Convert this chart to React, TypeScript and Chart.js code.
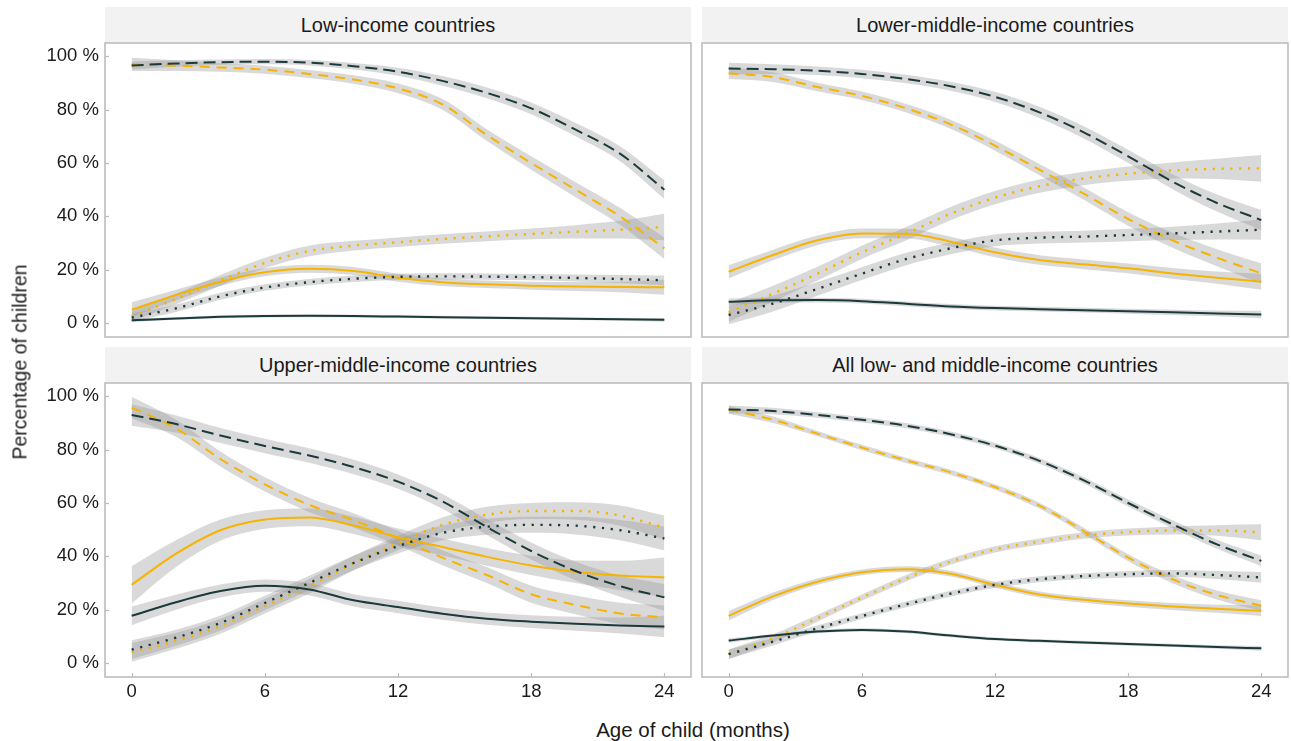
import React, { useEffect, useRef } from 'react';
import { Chart, registerables } from 'chart.js';
Chart.register(...registerables);

const FONT = '"Liberation Sans", Arial, Helvetica, sans-serif';
const DARK = '#1b3a3b';
const GOLD = '#f6b300';
const BAND = 'rgba(150,150,150,0.36)';

const months = [0, 2, 4, 6, 8, 10, 12, 14, 16, 18, 20, 22, 24];
const xTickValues = [0, 6, 12, 18, 24];
const yTickValues = [0, 20, 40, 60, 80, 100];

const panelTitles = [
  'Low-income countries',
  'Lower-middle-income countries',
  'Upper-middle-income countries',
  'All low- and middle-income countries',
];

// Low-income countries
const lowDarkSolid = [1, 1.7, 2.3, 2.6, 2.7, 2.6, 2.4, 2.2, 2, 1.8, 1.6, 1.4, 1.2];
const lowDarkSolidCI = [0.6, 0.5, 0.5, 0.5, 0.5, 0.5, 0.5, 0.5, 0.5, 0.5, 0.5, 0.6, 0.7];
const lowDarkDashed = [96.6, 97.3, 97.8, 98, 97.6, 96.3, 94.2, 90.8, 86.3, 80.5, 72.5, 63.5, 50];
const lowDarkDashedCI = [1.5, 1.2, 1, 1, 1, 1.2, 1.5, 1.8, 2, 2.2, 2.5, 2.8, 3.5];
const lowDarkDotted = [2, 5.5, 10, 13.3, 15.3, 16.6, 17.3, 17.5, 17.4, 17.2, 16.9, 16.5, 16];
const lowDarkDottedCI = [1.5, 1.4, 1.3, 1.2, 1.2, 1.2, 1.2, 1.2, 1.2, 1.2, 1.3, 1.5, 1.8];
const lowGoldSolid = [5, 10.5, 15.5, 19, 20.3, 19.5, 17, 15.3, 14.5, 14, 13.7, 13.5, 13.4];
const lowGoldSolidCI = [2.8, 2, 1.6, 1.5, 1.5, 1.5, 1.5, 1.4, 1.4, 1.5, 1.7, 2, 2.8];
const lowGoldDashed = [97, 96.5, 95.8, 95, 93.4, 91.3, 88, 82, 70.5, 60, 50, 40, 28];
const lowGoldDashedCI = [2.5, 2, 1.6, 1.5, 1.5, 1.6, 1.8, 2, 2.2, 2.5, 2.8, 3.2, 4];
const lowGoldDotted = [2.5, 9, 16, 22.5, 27, 29, 30.3, 31.5, 32.5, 33.4, 34.2, 35, 36];
const lowGoldDottedCI = [2, 2, 2, 2, 2, 1.8, 1.8, 1.8, 1.8, 2, 2.5, 3.3, 5];

// Lower-middle-income countries
const lmDarkSolid = [8, 8.5, 8.6, 8.2, 7.2, 6.2, 5.6, 5.2, 4.8, 4.4, 4, 3.6, 3.2];
const lmDarkSolidCI = [1.2, 1, 0.9, 0.9, 0.9, 0.9, 0.9, 0.9, 0.9, 0.9, 1, 1.1, 1.4];
const lmDarkDashed = [95.4, 95.2, 94.6, 93.4, 91.5, 88.8, 84.8, 79, 71.5, 62.5, 53, 45, 38.6];
const lmDarkDashedCI = [2.2, 1.8, 1.6, 1.6, 1.6, 1.7, 1.9, 2.1, 2.3, 2.5, 2.8, 3.2, 3.8];
const lmDarkDotted = [3, 7.3, 12.8, 18.5, 24, 28, 31, 32, 32.4, 33, 33.6, 34.3, 35];
const lmDarkDottedCI = [3.5, 3, 2.6, 2.4, 2.3, 2.2, 2.2, 2.2, 2.2, 2.3, 2.5, 3, 3.8];
const lmGoldSolid = [19.2, 25.5, 31, 33.6, 33.5, 30.5, 26.5, 23.6, 22, 20.5, 18.6, 17, 15.5];
const lmGoldSolidCI = [2.5, 2, 1.8, 1.8, 1.8, 1.8, 1.8, 1.8, 1.8, 1.8, 2, 2.3, 3];
const lmGoldDashed = [93.7, 92.2, 88.5, 85.2, 80.5, 74.5, 66.5, 57.5, 48.5, 39, 31, 24.5, 18.6];
const lmGoldDashedCI = [2.2, 1.8, 1.6, 1.6, 1.6, 1.7, 1.9, 2.1, 2.3, 2.5, 2.8, 3.2, 3.8];
const lmGoldDotted = [4, 11, 18.5, 26.5, 33.5, 41, 47, 51.3, 54.2, 56, 57.2, 57.8, 58];
const lmGoldDottedCI = [3.5, 3, 2.6, 2.5, 2.5, 2.5, 2.5, 2.5, 2.5, 2.7, 3, 3.8, 5];

// Upper-middle-income countries
const umDarkSolid = [17.7, 22.8, 27, 29, 27.6, 23.5, 21, 18.5, 16.6, 15.5, 14.7, 14.1, 13.7];
const umDarkSolidCI = [3.5, 2.8, 2.4, 2.3, 2.3, 2.3, 2.3, 2.3, 2.3, 2.4, 2.6, 3, 4];
const umDarkDashed = [93, 89.6, 85.3, 81.4, 77.8, 73.5, 68, 60.6, 51, 42, 34.5, 28.8, 24.6];
const umDarkDashedCI = [4, 3.2, 2.8, 2.7, 2.7, 2.7, 2.7, 2.8, 3, 3.2, 3.5, 4, 5];
const umDarkDotted = [5, 9.5, 15, 22.5, 30, 37.5, 43.8, 48.8, 51.1, 51.8, 51.5, 49.8, 46.7];
const umDarkDottedCI = [3.5, 3, 2.8, 2.7, 2.7, 2.7, 2.7, 2.8, 3, 3, 3.3, 3.8, 4.5];
const umGoldSolid = [29.3, 41, 49.8, 53.8, 54.6, 51.6, 47.2, 43.5, 39.8, 36.6, 34.2, 32.8, 32.1];
const umGoldSolidCI = [7, 5, 4, 3.5, 3.3, 3.2, 3.2, 3.2, 3.3, 3.6, 4.2, 5.5, 7.5];
const umGoldDashed = [95.8, 88, 76.5, 67, 59.3, 53.5, 46.8, 39.5, 33, 25.8, 21.8, 18.6, 17.1];
const umGoldDashedCI = [4, 3.2, 2.8, 2.7, 2.7, 2.7, 2.7, 2.8, 3, 3.2, 3.5, 4, 4.5];
const umGoldDotted = [4, 8.3, 13.8, 21.3, 28.8, 37.5, 45, 51.8, 55.6, 57, 57, 55.3, 50.8];
const umGoldDottedCI = [3.5, 3, 2.8, 2.7, 2.7, 2.7, 2.7, 2.8, 3, 3, 3.3, 3.8, 4.5];

// All low- and middle-income countries
const allDarkSolid = [8.4, 10.3, 11.8, 12.4, 11.8, 10.3, 9, 8.3, 7.7, 7.1, 6.6, 6, 5.5];
const allDarkSolidCI = [0.8, 0.6, 0.6, 0.6, 0.6, 0.6, 0.6, 0.6, 0.6, 0.6, 0.6, 0.7, 0.9];
const allDarkDashed = [95.1, 94.5, 93, 91.2, 89, 85.8, 81.5, 75.8, 68.5, 60, 52, 44.5, 38.3];
const allDarkDashedCI = [1.5, 1.2, 1, 1, 1, 1, 1, 1.1, 1.2, 1.3, 1.5, 1.7, 2];
const allDarkDotted = [3.3, 8, 13, 17.6, 22, 26, 29.3, 31.4, 32.6, 33.3, 33.6, 33, 32.1];
const allDarkDottedCI = [1.8, 1.4, 1.2, 1.1, 1.1, 1.1, 1.1, 1.1, 1.1, 1.2, 1.3, 1.5, 2];
const allGoldSolid = [17.7, 25, 30.5, 34, 35.2, 33.5, 29.3, 25.7, 23.7, 22.3, 21.2, 20.3, 19.6];
const allGoldSolidCI = [1.8, 1.4, 1.2, 1.1, 1.1, 1.1, 1.1, 1.1, 1.1, 1.2, 1.3, 1.5, 2];
const allGoldDashed = [95, 91.2, 86, 80.8, 76, 71.5, 66, 59, 49.5, 39.5, 31.4, 25.5, 21.5];
const allGoldDashedCI = [1.5, 1.2, 1, 1, 1, 1, 1, 1.1, 1.2, 1.3, 1.5, 1.7, 2];
const allGoldDotted = [3.3, 9.3, 16.8, 24.5, 31.8, 38, 42.6, 45.5, 47.8, 49.1, 49.7, 49.7, 49];
const allGoldDottedCI = [1.8, 1.5, 1.3, 1.2, 1.2, 1.2, 1.2, 1.2, 1.2, 1.3, 1.5, 2, 3];

type Series = { values: number[]; ci: number[]; color: string; style: 'solid' | 'dashed' | 'dotted' };

const mk = (values: number[], ci: number[], color: string, style: Series['style']): Series => ({ values, ci, color, style });

const panelSeries: Series[][] = [
  [
    mk(lowDarkSolid, lowDarkSolidCI, DARK, 'solid'),
    mk(lowDarkDashed, lowDarkDashedCI, DARK, 'dashed'),
    mk(lowDarkDotted, lowDarkDottedCI, DARK, 'dotted'),
    mk(lowGoldSolid, lowGoldSolidCI, GOLD, 'solid'),
    mk(lowGoldDashed, lowGoldDashedCI, GOLD, 'dashed'),
    mk(lowGoldDotted, lowGoldDottedCI, GOLD, 'dotted'),
  ],
  [
    mk(lmDarkSolid, lmDarkSolidCI, DARK, 'solid'),
    mk(lmDarkDashed, lmDarkDashedCI, DARK, 'dashed'),
    mk(lmDarkDotted, lmDarkDottedCI, DARK, 'dotted'),
    mk(lmGoldSolid, lmGoldSolidCI, GOLD, 'solid'),
    mk(lmGoldDashed, lmGoldDashedCI, GOLD, 'dashed'),
    mk(lmGoldDotted, lmGoldDottedCI, GOLD, 'dotted'),
  ],
  [
    mk(umDarkSolid, umDarkSolidCI, DARK, 'solid'),
    mk(umDarkDashed, umDarkDashedCI, DARK, 'dashed'),
    mk(umDarkDotted, umDarkDottedCI, DARK, 'dotted'),
    mk(umGoldSolid, umGoldSolidCI, GOLD, 'solid'),
    mk(umGoldDashed, umGoldDashedCI, GOLD, 'dashed'),
    mk(umGoldDotted, umGoldDottedCI, GOLD, 'dotted'),
  ],
  [
    mk(allDarkSolid, allDarkSolidCI, DARK, 'solid'),
    mk(allDarkDashed, allDarkDashedCI, DARK, 'dashed'),
    mk(allDarkDotted, allDarkDottedCI, DARK, 'dotted'),
    mk(allGoldSolid, allGoldSolidCI, GOLD, 'solid'),
    mk(allGoldDashed, allGoldDashedCI, GOLD, 'dashed'),
    mk(allGoldDotted, allGoldDottedCI, GOLD, 'dotted'),
  ],
];

const PLOT_W = 586;
const PLOT_H = 294;
const AXIS_W = 100;
const AXIS_H = 40;
const PAD_TOP = 4;
const PAD_RIGHT = 2;
const panelPos = [
  { left: 105, top: 43, showX: false, showY: true },
  { left: 702, top: 43, showX: false, showY: false },
  { left: 105, top: 383, showX: true, showY: true },
  { left: 702, top: 383, showX: true, showY: false },
];

const framePlugin = {
  id: 'frame',
  afterDraw(chart: any, _args: any, opts: any) {
    const { ctx, chartArea: a, scales } = chart;
    ctx.save();
    ctx.strokeStyle = '#bcbcbc';
    ctx.lineWidth = 1.2;
    if (opts.showY) {
      yTickValues.forEach((v) => {
        const y = Math.round(scales.y.getPixelForValue(v)) + 0.5;
        ctx.beginPath();
        ctx.moveTo(a.left, y);
        ctx.lineTo(a.left + 4, y);
        ctx.stroke();
      });
    }
    if (opts.showX) {
      xTickValues.forEach((v) => {
        const x = Math.round(scales.x.getPixelForValue(v)) + 0.5;
        ctx.beginPath();
        ctx.moveTo(x, a.bottom);
        ctx.lineTo(x, a.bottom - 4);
        ctx.stroke();
      });
    }
    ctx.lineWidth = 1.6;
    ctx.strokeStyle = '#bdbdbd';
    ctx.strokeRect(a.left, a.top, a.right - a.left, a.bottom - a.top);
    ctx.restore();
  },
};

function dashFor(s: Series): number[] {
  if (s.style === 'dashed') return s.color === DARK ? [12, 6] : [10, 7];
  if (s.style === 'dotted') return [2.2, 6.6];
  return [];
}

function zeroPad(sc: any) {
  sc.paddingTop = 0;
  sc.paddingBottom = 0;
  sc.paddingLeft = 0;
  sc.paddingRight = 0;
}

function Panel({ idx }: { idx: number }) {
  const ref = useRef<HTMLCanvasElement | null>(null);
  const pos = panelPos[idx];
  const cw = AXIS_W + PLOT_W + PAD_RIGHT;
  const ch = PAD_TOP + PLOT_H + AXIS_H;
  useEffect(() => {
    const series = panelSeries[idx];
    const datasets: any[] = [];
    series.forEach((s) => {
      datasets.push({
        data: months.map((m, i) => ({ x: m, y: s.values[i] - s.ci[i] })),
        borderWidth: 0,
        borderColor: 'rgba(0,0,0,0)',
        backgroundColor: BAND,
        pointRadius: 0,
        fill: false,
        order: 2,
        cubicInterpolationMode: 'monotone',
      });
      datasets.push({
        data: months.map((m, i) => ({ x: m, y: s.values[i] + s.ci[i] })),
        borderWidth: 0,
        borderColor: 'rgba(0,0,0,0)',
        backgroundColor: BAND,
        pointRadius: 0,
        fill: '-1',
        order: 2,
        cubicInterpolationMode: 'monotone',
      });
    });
    series.forEach((s) => {
      datasets.push({
        data: months.map((m, i) => ({ x: m, y: s.values[i] })),
        borderColor: s.color,
        borderWidth: s.style === 'dotted' ? 2.4 : 2,
        borderDash: dashFor(s),
        borderCapStyle: 'butt',
        pointRadius: 0,
        fill: false,
        order: 1,
        cubicInterpolationMode: 'monotone',
      });
    });
    const chart = new Chart(ref.current as HTMLCanvasElement, {
      type: 'line',
      data: { datasets },
      options: {
        animation: false,
        responsive: false,
        devicePixelRatio: 1,
        layout: { autoPadding: false, padding: { top: PAD_TOP, right: PAD_RIGHT, left: 0, bottom: 0 } },
        plugins: {
          legend: { display: false },
          tooltip: { enabled: false },
          frame: { showX: pos.showX, showY: pos.showY },
        } as any,
        scales: {
          x: {
            type: 'linear',
            min: -1.2,
            max: 25.2,
            grid: { display: false, drawTicks: false },
            border: { display: false },
            afterBuildTicks: (sc: any) => {
              sc.ticks = xTickValues.map((v) => ({ value: v }));
            },
            afterFit: (sc: any) => {
              sc.height = AXIS_H;
              zeroPad(sc);
            },
            ticks: {
              display: pos.showX,
              padding: 4,
              color: '#1a1a1a',
              font: { family: FONT, size: 18.5 },
              maxRotation: 0,
              callback: (v: any) => String(v),
            },
          },
          y: {
            type: 'linear',
            min: -5.25,
            max: 105,
            grid: { display: false, drawTicks: false },
            border: { display: false },
            afterBuildTicks: (sc: any) => {
              sc.ticks = yTickValues.map((v) => ({ value: v }));
            },
            afterFit: (sc: any) => {
              sc.width = AXIS_W;
              zeroPad(sc);
            },
            ticks: {
              display: pos.showY,
              padding: 6,
              color: '#1a1a1a',
              font: { family: FONT, size: 18.5 },
              callback: (v: any) => `${v} %`,
            },
          },
        },
      } as any,
      plugins: [framePlugin],
    });
    return () => chart.destroy();
  }, [idx]);
  return (
    <canvas
      ref={ref}
      width={cw}
      height={ch}
      style={{ position: 'absolute', left: pos.left - AXIS_W, top: pos.top - PAD_TOP, width: cw, height: ch }}
    />
  );
}

function Strip({ idx }: { idx: number }) {
  const pos = panelPos[idx];
  return (
    <div
      style={{
        position: 'absolute',
        left: pos.left,
        top: pos.top - 36,
        width: PLOT_W,
        height: 36,
        background: '#f2f2f2',
        display: 'flex',
        alignItems: 'center',
        justifyContent: 'center',
        fontFamily: FONT,
        fontSize: 20,
        color: '#1a1a1a',
      }}
    >
      {panelTitles[idx]}
    </div>
  );
}

export default function App() {
  return (
    <div
      style={{
        position: 'fixed',
        left: 0,
        top: 0,
        width: 1291,
        height: 741,
        background: '#ffffff',
        overflow: 'hidden',
      }}
    >
      {[0, 1, 2, 3].map((i) => (
        <Strip key={'s' + i} idx={i} />
      ))}
      {[0, 1, 2, 3].map((i) => (
        <Panel key={'p' + i} idx={i} />
      ))}
      <div
        style={{
          position: 'absolute',
          left: 20,
          top: 362,
          transform: 'translate(-50%, -50%) rotate(-90deg)',
          whiteSpace: 'nowrap',
          fontFamily: FONT,
          fontSize: 19.5,
          color: '#1a1a1a',
        }}
      >
        Percentage of children
      </div>
      <div
        style={{
          position: 'absolute',
          left: 693,
          top: 730,
          transform: 'translate(-50%, -50%)',
          whiteSpace: 'nowrap',
          fontFamily: FONT,
          fontSize: 20.5,
          color: '#1a1a1a',
        }}
      >
        Age of child (months)
      </div>
    </div>
  );
}
